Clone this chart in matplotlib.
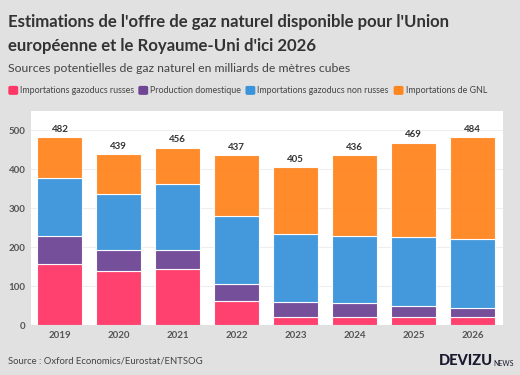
import matplotlib.pyplot as plt
import matplotlib.patches as mpatches
import numpy as np

plt.rcParams['font.family'] = ['Lato', 'DejaVu Sans']

YEARS = ['2019', '2020', '2021', '2022', '2023', '2024', '2025', '2026']
RUSSIAN_PIPE = [158, 139, 143, 62, 20, 20, 20, 20]
DOMESTIC = [70, 54, 50, 44, 40, 36, 30, 25]
OTHER_PIPE = [149, 144, 170, 174, 175, 174, 175, 175]
LNG = [105, 102, 93, 157, 170, 206, 244, 264]
TOTALS = [482, 439, 456, 437, 405, 436, 469, 484]

SERIES = [
    ("Importations gazoducs russes", RUSSIAN_PIPE, "#ff3767"),
    ("Production domestique", DOMESTIC, "#6f4596"),
    ("Importations gazoducs non russes", OTHER_PIPE, "#3a94dc"),
    ("Importations de GNL", LNG, "#ff851f"),
]

BG = '#e1e1e1'
TEXT_DARK = '#333333'
TEXT_GREY = '#555555'

fig = plt.figure(figsize=(5.2, 3.75), dpi=100)
fig.patch.set_facecolor(BG)
ax = fig.add_axes([0.0596, 0.1333, 0.9074, 0.5707])
ax.set_facecolor('white')

x = np.arange(len(YEARS))
bottom = np.zeros(len(YEARS))
for label, values, color in SERIES:
    ax.bar(x, values, bottom=bottom, width=0.76, color=color,
           edgecolor='white', linewidth=0.8, alpha=0.95, zorder=3)
    bottom += np.array(values)

for xi, total in zip(x, TOTALS):
    ax.text(xi, total + 8, str(total), ha='center', va='bottom',
            fontsize=7, fontweight='bold', color=TEXT_DARK, zorder=4)

ax.set_xlim(-0.49, 7.51)
ax.set_ylim(0, 550)
ax.set_yticks([0, 100, 200, 300, 400, 500])
ax.set_xticks(x)
ax.set_xticklabels(YEARS)
ax.grid(axis='y', color='#eeeeee', linewidth=0.8, zorder=0)
ax.tick_params(axis='both', length=0, labelsize=7, labelcolor=TEXT_GREY, pad=4)
for lbl in ax.get_xticklabels() + ax.get_yticklabels():
    lbl.set_fontweight('bold')
for side in ['bottom', 'top', 'left', 'right']:
    ax.spines[side].set_visible(False)

# titles
fig.text(0.015, 0.94, "Estimations de l'offre de gaz naturel disponible pour l'Union",
         fontsize=12.1, fontweight='bold', color=TEXT_DARK, va='center')
fig.text(0.015, 0.878, "européenne et le Royaume-Uni d'ici 2026",
         fontsize=12.1, fontweight='bold', color=TEXT_DARK, va='center')
fig.text(0.015, 0.818, "Sources potentielles de gaz naturel en milliards de mètres cubes",
         fontsize=8.8, color='#444444', va='center')

# legend
legend_x = [0.016, 0.266, 0.472, 0.757]
for (label, _, color), lx in zip(SERIES, legend_x):
    fig.patches.append(mpatches.FancyBboxPatch(
        (lx, 0.747), 0.019, 0.024, boxstyle='round,pad=0,rounding_size=0.004',
        transform=fig.transFigure, facecolor=color, edgecolor='none'))
    fig.text(lx + 0.023, 0.759, label, fontsize=6.4, color='#444444', va='center')

# footer
fig.text(0.015, 0.037, "Source : Oxford Economics/Eurostat/ENTSOG",
         fontsize=6.8, color='#444444', va='center')
fig.text(0.948, 0.037, "DEVIZU", fontsize=10.5, fontweight='black',
         color='#1a1a2e', ha='right', va='center')
fig.text(0.949, 0.031, "NEWS", fontsize=5, color='#1a1a2e', ha='left', va='center')

fig.savefig('out.png', dpi=100, facecolor=BG)
